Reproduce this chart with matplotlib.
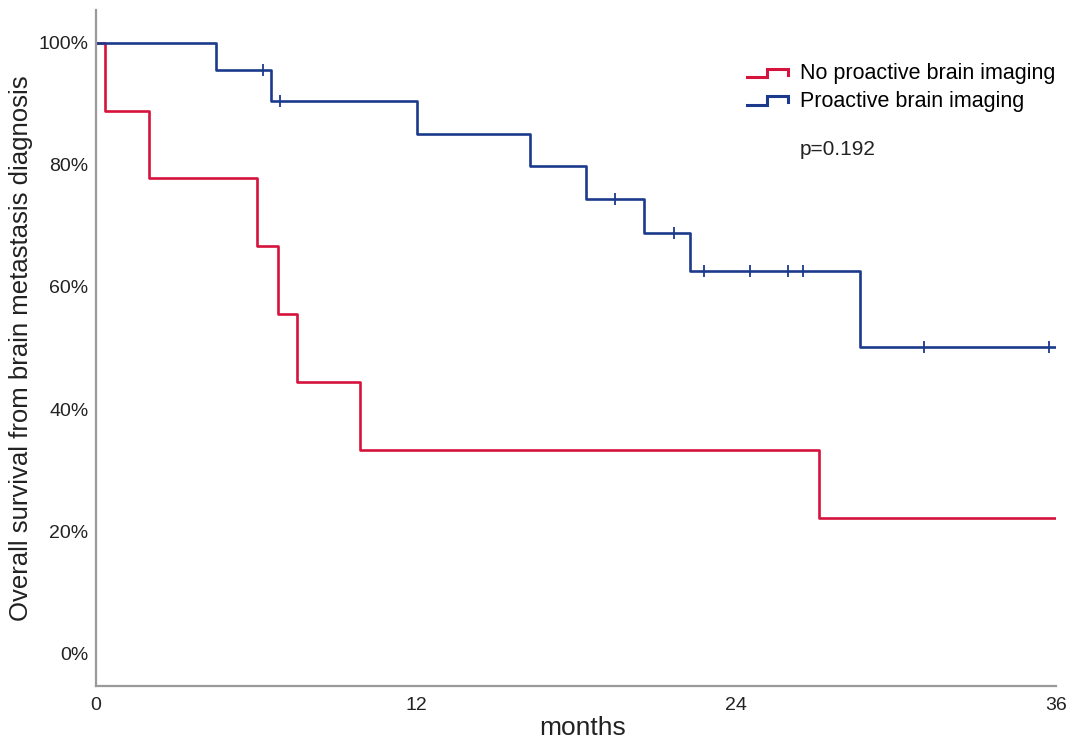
import numpy as np
import matplotlib
matplotlib.use('Agg')
import matplotlib.pyplot as plt
from matplotlib.legend_handler import HandlerBase
from matplotlib.lines import Line2D

plt.rcParams['font.family'] = ['Liberation Sans', 'DejaVu Sans']

# Kaplan-Meier step curves (months, survival %)
no_img_times = [0, 0.34, 2.0, 6.03, 6.84, 7.53, 9.91, 27.1, 36.0]
no_img_surv = [100, 88.9, 77.8, 66.7, 55.6, 44.4, 33.3, 22.2, 22.2]

pro_img_times = [0, 4.5, 6.55, 12.04, 16.27, 18.38, 20.55, 22.27, 28.64, 36.0]
pro_img_surv = [100, 95.5, 90.5, 85.1, 79.8, 74.5, 68.8, 62.6, 50.1, 50.1]

# censored observations in the proactive group
pro_cens_times = [6.28, 6.88, 19.47, 21.67, 22.79, 24.51, 25.93, 26.49, 31.03, 35.72]

red = '#d5133d'
blue = '#1c3a8c'


def surv_at(t, times, surv):
    idx = np.searchsorted(times, t, side='right') - 1
    return np.array(surv)[idx]


class StepHandler(HandlerBase):
    # little step-shaped legend key, like the SPSS output
    def create_artists(self, legend, orig_handle, xdescent, ydescent,
                       width, height, fontsize, trans):
        x0 = -xdescent
        y0 = -ydescent
        xs = [x0, x0 + width * 0.5, x0 + width * 0.5, x0 + width, x0 + width]
        ys = [y0 + height * 0.15, y0 + height * 0.15, y0 + height * 0.7,
              y0 + height * 0.7, y0 + height * 0.3]
        ln = Line2D(xs, ys, color=orig_handle.get_color(), lw=2.2,
                    solid_joinstyle='miter', transform=trans)
        return [ln]


fig = plt.figure(figsize=(10.8, 7.48), dpi=100)
ax = fig.add_axes([0.0889, 0.0829, 0.889, 0.9037])

l1, = ax.step(no_img_times, no_img_surv, where='post', color=red, lw=1.9,
              label='No proactive brain imaging')
l2, = ax.step(pro_img_times, pro_img_surv, where='post', color=blue, lw=1.9,
              label='Proactive brain imaging')
ax.plot(pro_cens_times, surv_at(pro_cens_times, pro_img_times, pro_img_surv),
        linestyle='none', marker='|', markersize=9, mew=1.3, color=blue)

ax.set_xlim(0, 36)
ax.set_ylim(-5.4, 105.4)
ax.set_xticks([0, 12, 24, 36])
ax.set_yticks([0, 20, 40, 60, 80, 100])
ax.set_yticklabels(['0%', '20%', '40%', '60%', '80%', '100%'])
ax.tick_params(axis='both', length=0, labelsize=14, colors='#222222')
ax.tick_params(axis='y', pad=5.5)
ax.tick_params(axis='x', pad=8)

for s in ['top', 'right']:
    ax.spines[s].set_visible(False)
for s in ['left', 'bottom']:
    ax.spines[s].set_color('#9a9a9a')
    ax.spines[s].set_linewidth(1.6)

ax.set_xlabel('months', fontsize=19, color='#222222')
ax.xaxis.set_label_coords(0.507, -0.045)
ax.set_ylabel('Overall survival from brain metastasis diagnosis', fontsize=18.5,
              color='#222222', labelpad=4)

leg = ax.legend(handles=[l1, l2], loc='upper left', bbox_to_anchor=(0.678, 0.921),
                frameon=False, fontsize=15.5, handlelength=1.9, handletextpad=0.55,
                labelspacing=0.3, borderpad=0, borderaxespad=0,
                handler_map={Line2D: StepHandler()})

ax.text(0.733, 0.793, 'p=0.192', transform=ax.transAxes, fontsize=15,
        color='#222222', va='center', ha='left')

fig.savefig('out.png', dpi=100)
